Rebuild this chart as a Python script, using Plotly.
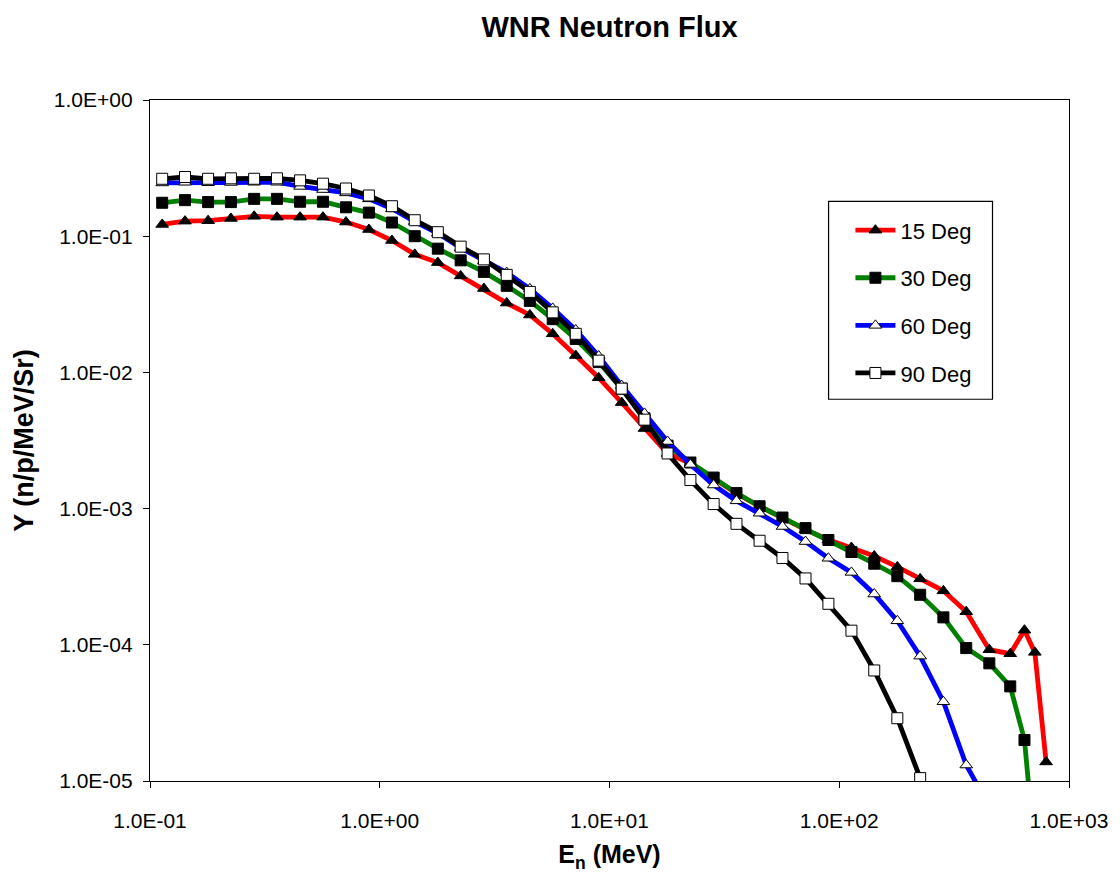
import plotly.graph_objects as go

# Energy (MeV) at each data point
energy = [0.113, 0.142, 0.179, 0.225, 0.284, 0.357, 0.45, 0.566, 0.713, 0.897,
          1.13, 1.42, 1.79, 2.25, 2.84, 3.57, 4.5, 5.66, 7.13, 8.97,
          11.3, 14.2, 17.9, 22.5, 28.4, 35.7, 45.0, 56.6, 71.3, 89.7,
          113, 142, 179, 225, 284, 357, 450, 555, 640, 710, 795]

deg15 = [0.122, 0.129, 0.130, 0.135, 0.140, 0.138, 0.138, 0.138, 0.127, 0.112,
         0.093, 0.0736, 0.064, 0.0511, 0.0413, 0.0323, 0.0264, 0.0192, 0.0133, 0.00914,
         0.0060, 0.00387, 0.00254, 0.00215, 0.00168, 0.00129, 0.00104, 8.5e-4, 7.0e-4, 5.9e-4,
         5.18e-4, 4.49e-4, 3.73e-4, 3.05e-4, 2.49e-4, 1.75e-4, 9.2e-5, 8.6e-5, 1.28e-4, 8.8e-5,
         1.38e-5]

deg30 = [0.176, 0.184, 0.178, 0.178, 0.188, 0.188, 0.179, 0.179, 0.163, 0.149,
         0.126, 0.100, 0.081, 0.0665, 0.0547, 0.0432, 0.0335, 0.0246, 0.0176, 0.0119,
         0.0076, 0.0046, 0.0029, 0.00218, 0.00169, 0.00130, 0.00104, 8.6e-4, 7.19e-4, 5.88e-4,
         4.80e-4, 3.94e-4, 3.19e-4, 2.33e-4, 1.59e-4, 9.46e-5, 7.31e-5, 4.95e-5, 2.0e-5, 3.0e-6]

deg60 = [0.246, 0.249, 0.247, 0.248, 0.249, 0.249, 0.232, 0.220, 0.208, 0.188,
         0.159, 0.128, 0.105, 0.082, 0.066, 0.054, 0.041, 0.0295, 0.0205, 0.0132,
         0.0080, 0.0050, 0.00311, 0.00211, 0.00149, 0.00114, 9.25e-4, 7.39e-4, 5.73e-4, 4.32e-4,
         3.40e-4, 2.36e-4, 1.50e-4, 8.26e-5, 3.82e-5, 1.31e-5, 6.5e-6]

deg90 = [0.264, 0.272, 0.264, 0.266, 0.264, 0.266, 0.257, 0.243, 0.224, 0.199,
         0.166, 0.131, 0.107, 0.0838, 0.0676, 0.0520, 0.0390, 0.0276, 0.0192, 0.0122,
         0.0076, 0.0045, 0.00254, 0.00162, 0.00108, 7.73e-4, 5.81e-4, 4.34e-4, 3.07e-4, 2.0e-4,
         1.27e-4, 6.48e-5, 2.89e-5, 1.05e-5]

x_tickvals = [0.1, 1, 10, 100, 1000]
x_ticktext = ["1.0E-01", "1.0E+00", "1.0E+01", "1.0E+02", "1.0E+03"]
y_tickvals = [1e-5, 1e-4, 1e-3, 1e-2, 1e-1, 1]
y_ticktext = ["1.0E-05", "1.0E-04", "1.0E-03", "1.0E-02", "1.0E-01", "1.0E+00"]

FONT = "Liberation Sans, Arial, sans-serif"

series = [
    ("15 Deg", deg15, "#FF0000", "triangle-up", "#000000"),
    ("30 Deg", deg30, "#008000", "square", "#000000"),
    ("60 Deg", deg60, "#0000FF", "triangle-up", "#FFFFFF"),
    ("90 Deg", deg90, "#000000", "square", "#FFFFFF"),
]

fig = go.Figure()
for name, ys, color, symbol, fill in series:
    fig.add_trace(go.Scatter(
        x=energy[:len(ys)], y=ys, name=name, mode="lines+markers",
        legendgroup=name,
        line=dict(color=color, width=4.8),
        marker=dict(symbol=symbol, size=11, color=fill,
                    line=dict(color="#000000", width=1)),
    ))

L, R, T, B = 150, 45, 100, 91
PW, PH = 1120 - L - R, 876 - T - B

fig.update_layout(
    width=1120, height=876, autosize=False,
    margin=dict(l=L, r=R, t=T, b=B),
    paper_bgcolor="white", plot_bgcolor="white",
    font=dict(family=FONT, color="black"),
    title=dict(text="<b>WNR Neutron Flux</b>", font=dict(size=29, family=FONT),
               x=0.5, xref="paper", xanchor="center",
               y=1 - 27 / 876, yref="container", yanchor="middle"),
    showlegend=True,
    legend=dict(x=(855 - L) / PW, xanchor="left",
                y=(T + PH - 210) / PH, yanchor="top",
                font=dict(size=22, family=FONT),
                bgcolor="rgba(0,0,0,0)", borderwidth=0,
                itemwidth=40,
                tracegroupgap=16),
    shapes=[dict(type="rect", xref="paper", yref="paper",
                 x0=(833 - L) / PW, x1=(998 - L) / PW,
                 y0=(T + PH - 401) / PH, y1=(T + PH - 202) / PH,
                 line=dict(color="#000000", width=1.2), fillcolor="rgba(0,0,0,0)")],
)

fig.update_xaxes(
    type="log", range=[-1, 3],
    tickvals=x_tickvals, ticktext=x_ticktext,
    ticks="outside", ticklen=6, tickcolor="#000000",
    ticklabelstandoff=15,
    tickfont=dict(size=21, family=FONT),
    showline=True, linecolor="#000000", linewidth=1.2, mirror=True,
    showgrid=False, zeroline=False,
    title=dict(text="<b>E<sub>n</sub> (MeV)</b>", font=dict(size=25, family=FONT), standoff=14),
)
fig.update_yaxes(
    type="log", range=[-5, 0],
    tickvals=y_tickvals, ticktext=y_ticktext,
    ticks="outside", ticklen=6, tickcolor="#000000",
    ticklabelstandoff=6,
    tickfont=dict(size=21, family=FONT),
    showline=True, linecolor="#000000", linewidth=1.2, mirror=True,
    showgrid=False, zeroline=False,
    title=dict(text="<b>Y (n/p/MeV/Sr)</b>", font=dict(size=27, family=FONT), standoff=12),
)

fig.write_html("out.html")
